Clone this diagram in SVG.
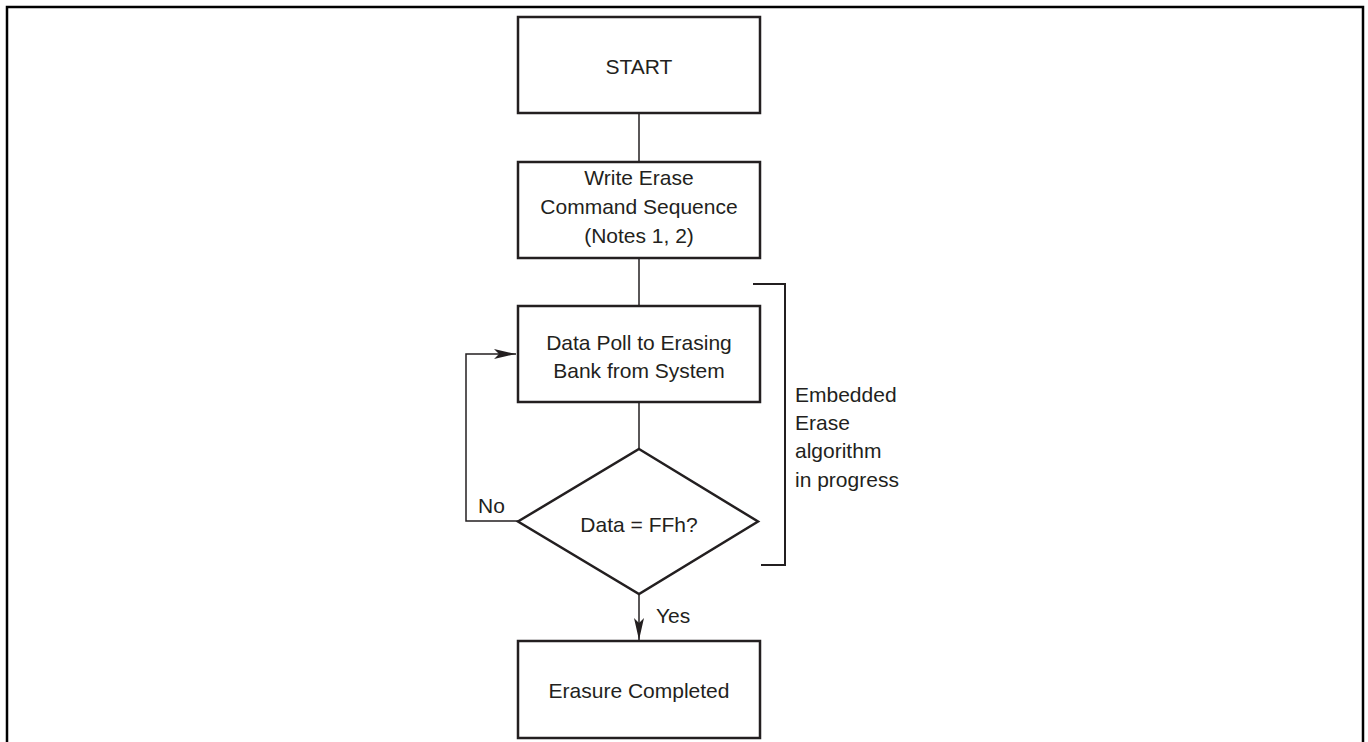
<svg xmlns="http://www.w3.org/2000/svg" width="1368" height="742" viewBox="0 0 1368 742">
<defs>
<style>
.box{fill:#fff;stroke:#231f20;stroke-width:2.5}
.ln{fill:none;stroke:#231f20;stroke-width:1.5}
.t{font-family:"Liberation Sans",Arial,Helvetica,sans-serif;font-size:21px;fill:#231f20}
.m{text-anchor:middle}
</style>
<marker id="ah" markerWidth="22" markerHeight="10" refX="22" refY="5" orient="auto" markerUnits="userSpaceOnUse">
<path d="M0,0 L22,5 L0,10 L5,5 Z" fill="#231f20"/>
</marker>
</defs>
<rect width="1368" height="742" fill="#fff"/>
<path d="M7,745 V7 H1363 V745" fill="none" stroke="#000" stroke-width="2.5"/>
<g id="connectors">
<line class="ln" x1="639" y1="113" x2="639" y2="162"/>
<line class="ln" x1="639" y1="258" x2="639" y2="306"/>
<line class="ln" x1="639" y1="402" x2="639" y2="449"/>
<path class="ln" d="M518,521 H466 V354 H516" marker-end="url(#ah)"/>
<path class="ln" d="M639,594 V640" marker-end="url(#ah)"/>
<text class="t" x="478" y="513">No</text>
<text class="t" x="656" y="623">Yes</text>
</g>
<g id="start">
<rect class="box" x="518" y="17" width="242" height="96"/>
<text class="t m" x="639" y="74">START</text>
</g>
<g id="write">
<rect class="box" x="518" y="162" width="242" height="96"/>
<text class="t m" x="639" y="185">Write Erase</text>
<text class="t m" x="639" y="214">Command Sequence</text>
<text class="t m" x="639" y="243">(Notes 1, 2)</text>
</g>
<g id="poll">
<rect class="box" x="518" y="306" width="242" height="96"/>
<text class="t m" x="639" y="350">Data Poll to Erasing</text>
<text class="t m" x="639" y="378">Bank from System</text>
</g>
<g id="decision">
<polygon class="box" points="639,449 758,521.5 639,594 518,521.5"/>
<text class="t m" x="639" y="532">Data = FFh?</text>
</g>
<g id="done">
<rect class="box" x="518" y="641" width="242" height="97"/>
<text class="t m" x="639" y="698">Erasure Completed</text>
</g>
<g id="bracket">
<path d="M753,284 H785 V565 H761" fill="none" stroke="#231f20" stroke-width="2"/>
<text class="t" x="795" y="402">Embedded</text>
<text class="t" x="795" y="430">Erase</text>
<text class="t" x="795" y="458">algorithm</text>
<text class="t" x="795" y="487">in progress</text>
</g>
</svg>
